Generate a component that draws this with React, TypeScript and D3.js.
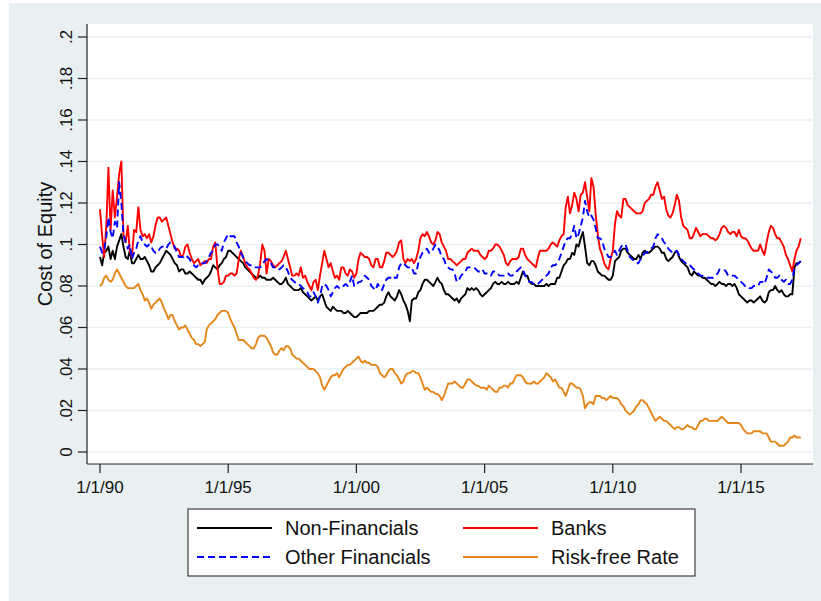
import React from "react";
import * as d3 from "d3";

// Monthly series, Jan 1990 .. May 2017
const nonFinancials = [
  .094,.090,.096,.097,.099,.093,.097,.093,.099,.102,
  .105,.099,.094,.093,.097,.091,.091,.093,.095,.093,
  .093,.094,.092,.090,.087,.087,.089,.090,.091,.093,
  .095,.097,.096,.095,.093,.091,.090,.087,.088,.088,
  .086,.086,.087,.086,.085,.084,.083,.083,.081,.083,
  .084,.085,.087,.090,.089,.088,.090,.091,.093,.094,
  .097,.097,.096,.095,.094,.093,.092,.091,.089,.088,
  .087,.086,.085,.084,.084,.085,.084,.084,.083,.083,
  .083,.084,.083,.082,.081,.081,.082,.084,.081,.080,
  .079,.078,.078,.078,.079,.077,.076,.075,.074,.073,
  .074,.075,.073,.075,.076,.073,.070,.069,.068,.070,
  .069,.068,.068,.068,.067,.067,.068,.067,.066,.065,
  .065,.066,.067,.067,.067,.067,.068,.068,.068,.069,
  .070,.071,.071,.072,.075,.077,.075,.074,.073,.075,
  .078,.076,.073,.071,.068,.063,.073,.074,.074,.077,
  .078,.081,.083,.083,.082,.081,.080,.082,.084,.082,
  .081,.078,.076,.076,.075,.074,.073,.074,.072,.074,
  .075,.076,.079,.078,.079,.078,.079,.078,.076,.075,
  .076,.077,.078,.079,.081,.082,.081,.081,.082,.081,
  .081,.082,.081,.081,.081,.082,.081,.084,.087,.085,
  .085,.082,.081,.081,.080,.080,.080,.080,.080,.081,
  .080,.081,.081,.081,.084,.084,.087,.090,.091,.093,
  .093,.096,.095,.100,.099,.103,.106,.099,.091,.090,
  .092,.092,.090,.087,.086,.085,.085,.084,.083,.083,
  .085,.092,.093,.094,.097,.098,.098,.096,.095,.094,
  .093,.093,.095,.093,.096,.097,.096,.096,.097,.098,
  .099,.099,.098,.096,.096,.093,.092,.093,.094,.096,
  .097,.094,.092,.091,.090,.089,.086,.085,.087,.086,
  .085,.085,.084,.084,.083,.082,.081,.081,.080,.081,
  .082,.081,.081,.080,.081,.081,.080,.081,.079,.076,
  .075,.074,.073,.072,.073,.073,.072,.073,.074,.075,
  .073,.072,.073,.077,.078,.078,.080,.078,.077,.078,
  .076,.075,.075,.076,.076,.089,.091,.091,.092,
];

const banks = [
  .117,.104,.094,.109,.137,.107,.126,.113,.123,.134,
  .140,.105,.101,.109,.097,.094,.107,.106,.118,.107,
  .104,.105,.103,.105,.101,.104,.109,.113,.113,.111,
  .112,.113,.109,.105,.101,.098,.098,.097,.094,.095,
  .099,.100,.096,.093,.091,.092,.093,.090,.091,.092,
  .091,.093,.093,.099,.101,.089,.081,.081,.082,.085,
  .085,.086,.086,.085,.086,.093,.097,.094,.091,.089,
  .088,.086,.084,.083,.085,.091,.100,.097,.086,.093,
  .092,.090,.089,.090,.091,.092,.094,.097,.093,.089,
  .085,.085,.086,.085,.089,.084,.085,.082,.080,.078,
  .082,.083,.078,.085,.091,.097,.093,.089,.091,.087,
  .084,.085,.083,.089,.089,.086,.085,.088,.087,.084,
  .086,.093,.096,.095,.094,.094,.093,.090,.089,.093,
  .093,.089,.089,.092,.096,.096,.095,.094,.095,.097,
  .101,.102,.093,.091,.093,.092,.093,.091,.093,.097,
  .103,.105,.104,.106,.104,.101,.100,.102,.106,.105,
  .101,.099,.097,.093,.093,.092,.091,.090,.091,.092,
  .093,.093,.096,.097,.098,.097,.097,.097,.095,.094,
  .093,.094,.097,.097,.098,.100,.100,.099,.097,.095,
  .091,.090,.092,.093,.093,.093,.094,.098,.098,.095,
  .093,.092,.091,.090,.089,.094,.097,.097,.097,.097,
  .098,.100,.101,.100,.099,.102,.104,.105,.118,.123,
  .115,.119,.125,.122,.116,.124,.125,.130,.123,.116,
  .132,.128,.115,.105,.098,.095,.091,.089,.088,.093,
  .097,.110,.116,.114,.113,.122,.122,.119,.118,.117,
  .116,.115,.115,.115,.116,.120,.121,.122,.124,.124,
  .128,.130,.126,.122,.123,.117,.114,.113,.115,.119,
  .124,.121,.113,.109,.108,.107,.103,.103,.105,.108,
  .106,.104,.105,.105,.105,.104,.103,.103,.102,.103,
  .105,.108,.109,.108,.106,.105,.106,.106,.104,.107,
  .104,.103,.103,.102,.100,.098,.097,.097,.097,.100,
  .097,.095,.101,.106,.109,.108,.105,.103,.103,.101,
  .099,.095,.093,.090,.087,.093,.097,.099,.103,
];

const otherFinancials = [
  .099,.096,.097,.104,.113,.106,.103,.111,.108,.130,
  .120,.105,.101,.098,.100,.093,.096,.098,.102,.104,
  .101,.100,.099,.100,.099,.097,.096,.096,.098,.099,
  .099,.098,.100,.101,.100,.099,.096,.094,.094,.094,
  .095,.094,.093,.091,.090,.089,.090,.090,.091,.091,
  .092,.094,.096,.097,.100,.100,.099,.097,.101,.103,
  .105,.104,.104,.104,.101,.099,.096,.094,.092,.091,
  .090,.090,.089,.089,.089,.089,.090,.092,.093,.092,
  .091,.089,.089,.088,.088,.089,.090,.089,.087,.084,
  .083,.082,.081,.081,.080,.079,.078,.077,.075,.075,
  .077,.075,.072,.075,.080,.081,.080,.078,.075,.077,
  .079,.080,.079,.079,.080,.081,.080,.082,.085,.080,
  .080,.082,.082,.083,.085,.084,.083,.080,.079,.078,
  .081,.079,.078,.081,.083,.084,.084,.085,.084,.084,
  .089,.091,.091,.090,.089,.089,.089,.086,.086,.091,
  .094,.096,.097,.098,.096,.096,.098,.100,.099,.097,
  .094,.093,.090,.089,.088,.088,.086,.082,.083,.085,
  .086,.087,.089,.089,.089,.089,.088,.087,.087,.088,
  .086,.086,.086,.085,.087,.087,.086,.085,.085,.085,
  .086,.086,.085,.085,.086,.087,.088,.089,.088,.085,
  .084,.082,.082,.081,.081,.081,.082,.083,.084,.085,
  .086,.089,.090,.090,.091,.093,.096,.099,.102,.103,
  .103,.105,.109,.103,.105,.109,.113,.121,.116,.113,
  .114,.112,.108,.103,.103,.102,.098,.096,.094,.094,
  .095,.097,.095,.097,.099,.100,.100,.097,.094,.093,
  .092,.091,.091,.093,.094,.096,.096,.097,.098,.099,
  .103,.105,.104,.103,.101,.100,.098,.097,.096,.096,
  .097,.095,.093,.092,.091,.090,.090,.089,.088,.087,
  .086,.085,.085,.084,.084,.084,.084,.084,.085,.086,
  .088,.088,.088,.087,.085,.085,.085,.085,.084,.083,
  .082,.081,.080,.080,.079,.079,.080,.080,.080,.082,
  .082,.081,.084,.088,.087,.086,.084,.084,.085,.083,
  .082,.083,.081,.081,.083,.089,.090,.091,.092,
];

const riskFreeRate = [
  .080,.081,.084,.085,.083,.082,.083,.086,.088,.086,
  .084,.082,.080,.079,.079,.079,.079,.080,.081,.078,
  .076,.073,.074,.072,.069,.071,.072,.073,.074,.072,
  .069,.067,.064,.066,.066,.063,.061,.059,.060,.060,
  .061,.059,.057,.055,.054,.052,.052,.051,.052,.053,
  .059,.061,.062,.063,.064,.066,.067,.068,.068,.068,
  .067,.064,.062,.060,.057,.054,.054,.054,.053,.052,
  .051,.050,.050,.052,.055,.056,.056,.056,.055,.053,
  .051,.048,.047,.047,.049,.050,.049,.051,.051,.050,
  .047,.046,.045,.045,.044,.043,.042,.041,.040,.040,
  .040,.039,.038,.036,.032,.030,.032,.034,.036,.037,
  .037,.038,.036,.038,.040,.041,.042,.042,.043,.044,
  .045,.046,.044,.043,.044,.043,.043,.042,.042,.042,
  .041,.038,.037,.036,.037,.039,.040,.040,.038,.037,
  .035,.033,.034,.037,.038,.038,.039,.039,.038,.038,
  .036,.033,.030,.031,.030,.029,.029,.028,.028,.027,
  .025,.027,.030,.033,.033,.033,.034,.033,.032,.031,
  .031,.033,.035,.035,.034,.033,.032,.032,.031,.031,
  .031,.030,.032,.031,.030,.029,.029,.031,.031,.032,
  .032,.031,.033,.033,.035,.037,.037,.037,.036,.034,
  .033,.033,.033,.034,.033,.033,.034,.035,.036,.038,
  .037,.036,.034,.035,.033,.031,.031,.029,.027,.030,
  .033,.033,.032,.031,.031,.030,.027,.021,.023,.024,
  .024,.023,.027,.027,.027,.026,.026,.025,.026,.027,
  .026,.026,.026,.025,.023,.022,.020,.019,.018,.019,
  .020,.022,.023,.025,.025,.024,.023,.021,.019,.017,
  .015,.016,.017,.016,.015,.015,.014,.013,.012,.011,
  .012,.012,.011,.011,.012,.013,.012,.012,.011,.011,
  .013,.015,.015,.016,.016,.015,.015,.015,.015,.015,
  .016,.017,.016,.015,.014,.014,.014,.014,.014,.014,
  .013,.011,.010,.009,.009,.009,.010,.010,.010,.010,
  .009,.009,.009,.007,.005,.005,.005,.004,.003,.003,
  .003,.004,.005,.007,.007,.008,.007,.007,.007,
];

const yTicks = [0, 0.02, 0.04, 0.06, 0.08, 0.1, 0.12, 0.14, 0.16, 0.18, 0.2];
const yTickLabels = ["0", ".02", ".04", ".06", ".08", ".1", ".12", ".14", ".16", ".18", ".2"];
const xTickYears = [1990, 1995, 2000, 2005, 2010, 2015];
const xTickLabels = ["1/1/90", "1/1/95", "1/1/00", "1/1/05", "1/1/10", "1/1/15"];

const seriesNames = ["Non-Financials", "Banks", "Other Financials", "Risk-free Rate"];
const seriesColors = ["#000000", "#ff0000", "#0000ff", "#e4861a"];
const seriesDash = [null, null, "7,4", null];

const FONT = "Arial, 'Liberation Sans', Helvetica, sans-serif";

export default function App() {
  const W = 821, H = 601;
  const plotL = 87, plotR = 813, plotT = 24, plotB = 464;

  const x = d3.scaleTime()
    .domain([new Date(1990, 0, 1), new Date(2015, 0, 1)])
    .range([100, 741]);
  const y = d3.scaleLinear().domain([0, 0.2]).range([452, 37]);

  const allSeries = [nonFinancials, banks, otherFinancials, riskFreeRate];
  const line = d3.line<number>()
    .x((_, i) => x(new Date(1990, i, 1)))
    .y((d) => y(d));

  const drawOrder = [3, 0, 1, 2];

  const legendItems = [
    { idx: 0, lx: 197, ty: 528 },
    { idx: 1, lx: 463, ty: 528 },
    { idx: 2, lx: 197, ty: 557 },
    { idx: 3, lx: 463, ty: 557 },
  ];

  return (
    <svg width={W} height={H} style={{ position: "absolute", left: 0, top: 0 }} fontFamily={FONT}>
      <rect x={0} y={0} width={W} height={H} fill="#ffffff" />
      <rect x={9} y={3} width={W - 9} height={H - 3} fill="#e9f0f2" />
      <rect x={plotL} y={plotT} width={plotR - plotL} height={plotB - plotT} fill="#ffffff" />

      {yTicks.map((t, i) => (
        <line key={"g" + i} x1={plotL} x2={plotR} y1={y(t)} y2={y(t)} stroke="#eaf2f3" strokeWidth={1.6} />
      ))}

      {drawOrder.map((si) => (
        <path
          key={"s" + si}
          d={line(allSeries[si]) || ""}
          fill="none"
          stroke={seriesColors[si]}
          strokeWidth={1.9}
          strokeDasharray={seriesDash[si] || undefined}
          strokeLinejoin="round"
        />
      ))}

      <line x1={plotL} x2={plotL} y1={plotT} y2={plotB} stroke="#222" strokeWidth={1.2} />
      <line x1={plotL} x2={plotR} y1={plotB} y2={plotB} stroke="#222" strokeWidth={1.2} />

      {yTicks.map((t, i) => (
        <g key={"yt" + i}>
          <line x1={78} x2={plotL} y1={y(t)} y2={y(t)} stroke="#222" strokeWidth={1.2} />
          <text
            transform={`translate(72,${y(t)}) rotate(-90)`}
            textAnchor="middle"
            fontSize={17}
            fill="#111"
          >
            {yTickLabels[i]}
          </text>
        </g>
      ))}

      {xTickYears.map((yr, i) => {
        const px = x(new Date(yr, 0, 1));
        return (
          <g key={"xt" + i}>
            <line x1={px} x2={px} y1={plotB} y2={473} stroke="#222" strokeWidth={1.2} />
            <text x={px} y={493} textAnchor="middle" fontSize={17} fill="#111">
              {xTickLabels[i]}
            </text>
          </g>
        );
      })}

      <text transform="translate(52,244) rotate(-90)" textAnchor="middle" fontSize={20} fill="#111">
        Cost of Equity
      </text>

      <rect x={188} y={509} width={507} height={67} fill="#ffffff" stroke="#404040" strokeWidth={1.2} />
      {legendItems.map((it) => (
        <g key={"lg" + it.idx}>
          <line
            x1={it.lx}
            x2={it.lx + 75}
            y1={it.ty}
            y2={it.ty}
            stroke={seriesColors[it.idx]}
            strokeWidth={1.9}
            strokeDasharray={seriesDash[it.idx] || undefined}
          />
          <text x={it.lx + 88} y={it.ty + 7} fontSize={20} fill="#111">
            {seriesNames[it.idx]}
          </text>
        </g>
      ))}
    </svg>
  );
}
